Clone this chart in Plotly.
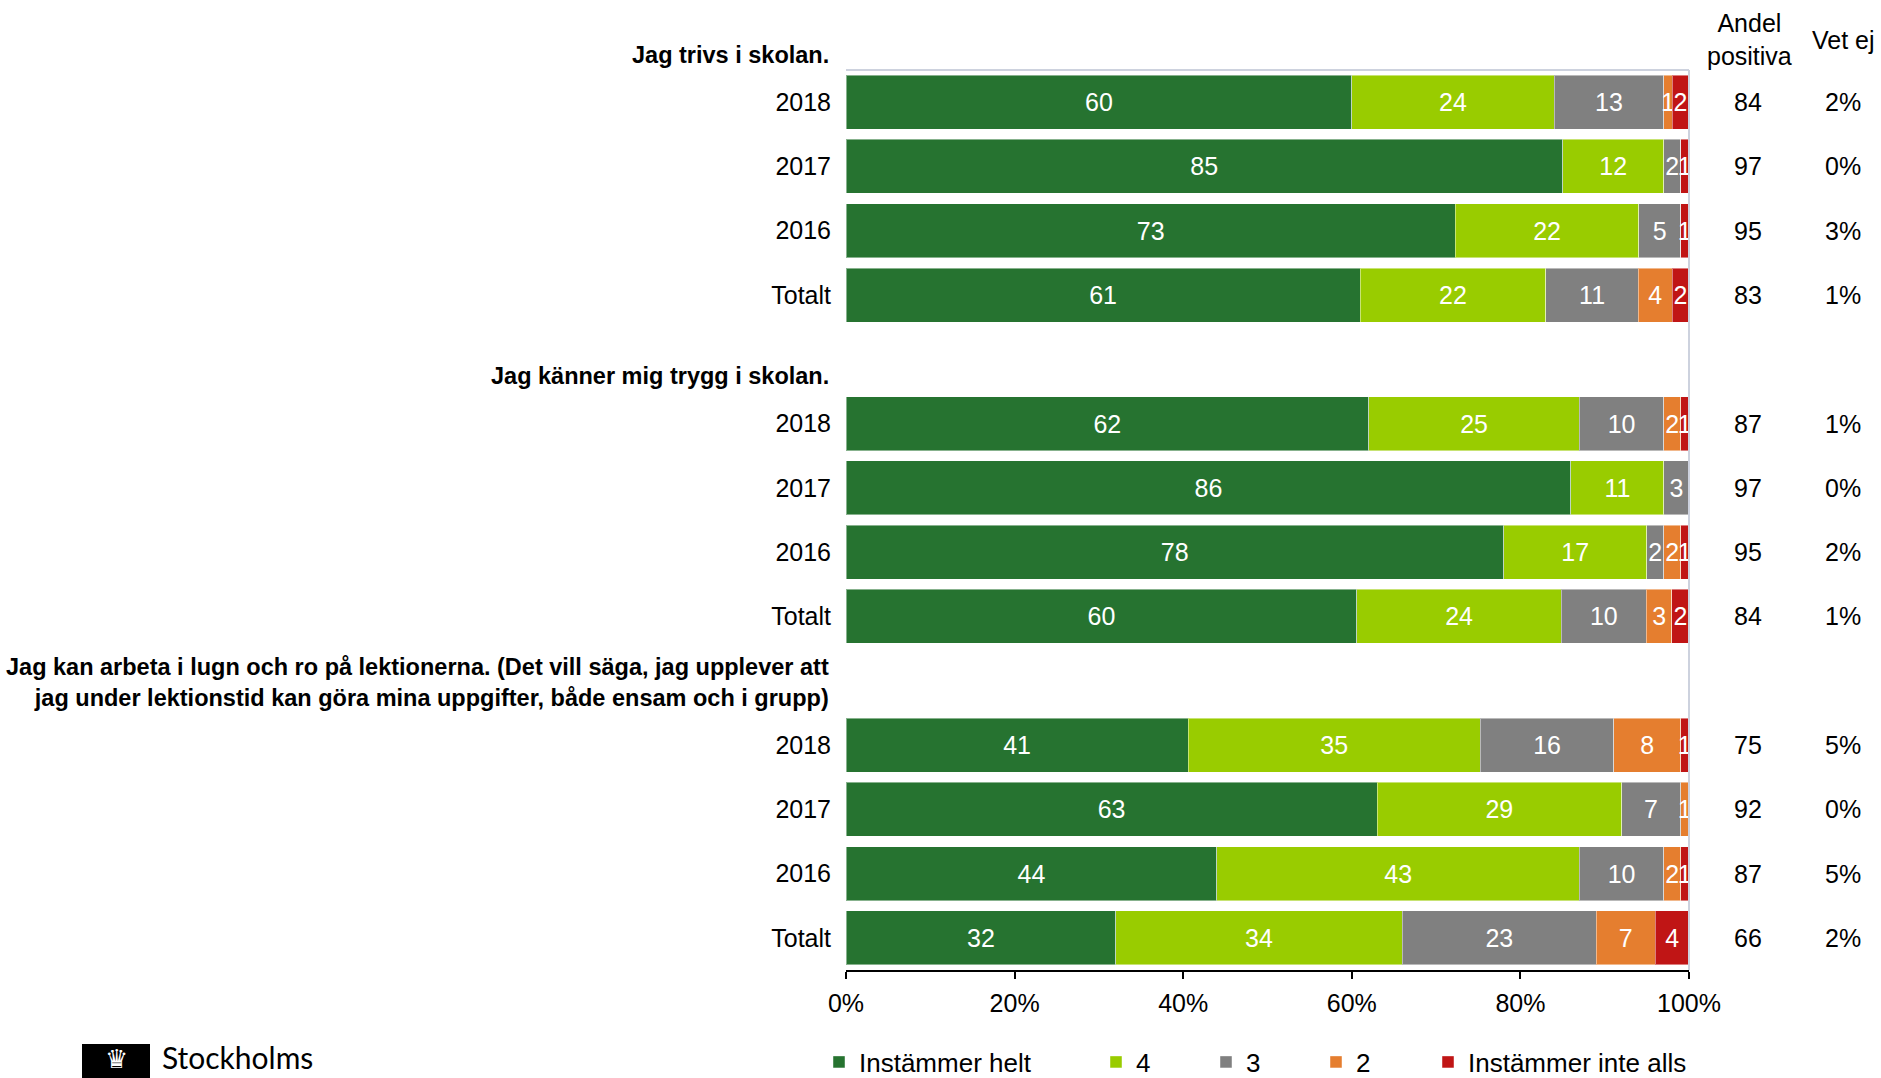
import plotly.graph_objects as go

# ---------------- data ----------------
group_titles = [
    "Jag trivs i skolan.",
    "Jag känner mig trygg i skolan.",
    "Jag kan arbeta i lugn och ro på lektionerna. (Det vill säga, jag upplever att<br>jag under lektionstid kan göra mina uppgifter, både ensam och i grupp)",
]
row_labels = ["2018", "2017", "2016", "Totalt"]

series_names = ["Instämmer helt", "4", "3", "2", "Instämmer inte alls"]
instammer_helt = [60, 85, 73, 61, 62, 86, 78, 60, 41, 63, 44, 32]
svar_4 = [24, 12, 22, 22, 25, 11, 17, 24, 35, 29, 43, 34]
svar_3 = [13, 2, 5, 11, 10, 3, 2, 10, 16, 7, 10, 23]
svar_2 = [1, 0, 0, 4, 2, 0, 2, 3, 8, 1, 2, 7]
instammer_inte_alls = [2, 1, 1, 2, 1, 0, 1, 2, 1, 0, 1, 4]

andel_positiva = [84, 97, 95, 83, 87, 97, 95, 84, 75, 92, 87, 66]
vet_ej = ["2%", "0%", "3%", "1%", "1%", "0%", "2%", "1%", "5%", "0%", "5%", "2%"]

x_ticks = [0, 20, 40, 60, 80, 100]
x_ticklabels = ["0%", "20%", "40%", "60%", "80%", "100%"]

colors = ["#267330", "#99CC00", "#808080", "#E57E2F", "#C01515"]
series_values = [instammer_helt, svar_4, svar_3, svar_2, instammer_inte_alls]

FONT = "Liberation Sans, Arial, sans-serif"

# row positions: each group has 4 rows, separated by an empty slot
n_rows = len(row_labels)
positions = []
ticktext = []
for g in range(len(group_titles)):
    for r in range(n_rows):
        positions.append(g * (n_rows + 1) + r)
        ticktext.append(row_labels[r])

fig = go.Figure()
for i, (name, vals) in enumerate(zip(series_names, series_values)):
    fig.add_trace(go.Bar(
        y=positions,
        x=vals,
        name=name,
        orientation="h",
        marker=dict(color=colors[i], line=dict(color="rgba(255,255,255,0.45)", width=1)),
        text=[str(v) if v > 0 else "" for v in vals],
        textposition="inside",
        insidetextanchor="middle",
        textangle=0,
        textfont=dict(color="white", size=25, family=FONT),
        hoverinfo="skip",
        legend="legend" if i == 0 else f"legend{i+1}",
    ))

# plot geometry (pixels)
W, H = 1881, 1078
L, R, T, B = 846, 1881 - 1689, 70, 1078 - 970
pw = W - L - R
ph = H - T - B


def px2paper_x(px):
    return (px - L) / pw


def px2paper_y(py):
    return (H - B - py) / ph


annotations = []
# group titles (bottom aligned at slot bottom)
for g, title in enumerate(group_titles):
    slot = g * (n_rows + 1) - 1
    annotations.append(dict(
        x=px2paper_x(831), xref="paper", xanchor="right",
        y=slot + 0.5, yref="y", yanchor="bottom",
        text=f"<b>{title}</b>", showarrow=False, align="right",
        font=dict(size=23.5, family=FONT, color="black"),
    ))

# right-hand columns
for p, a, v in zip(positions, andel_positiva, vet_ej):
    annotations.append(dict(x=px2paper_x(1748), xref="paper", xanchor="center",
                            y=p, yref="y", yanchor="middle",
                            text=str(a), showarrow=False,
                            font=dict(size=25, family=FONT, color="black")))
    annotations.append(dict(x=px2paper_x(1843), xref="paper", xanchor="center",
                            y=p, yref="y", yanchor="middle",
                            text=v, showarrow=False,
                            font=dict(size=25, family=FONT, color="black")))

annotations.append(dict(x=px2paper_x(1749), xref="paper", xanchor="center",
                        y=px2paper_y(40), yref="paper", yanchor="middle",
                        text="Andel<br>positiva", showarrow=False,
                        font=dict(size=25, family=FONT, color="black")))
annotations.append(dict(x=px2paper_x(1843), xref="paper", xanchor="center",
                        y=px2paper_y(40), yref="paper", yanchor="middle",
                        text="Vet ej", showarrow=False,
                        font=dict(size=25, family=FONT, color="black")))

# logo
annotations.append(dict(x=px2paper_x(160), xref="paper", xanchor="left",
                        y=px2paper_y(1057), yref="paper", yanchor="middle",
                        text="Stockholms", showarrow=False,
                        font=dict(size=30, family="Lato, Noto Sans, sans-serif", color="black")))
annotations.append(dict(x=px2paper_x(116), xref="paper", xanchor="center",
                        y=px2paper_y(1059), yref="paper", yanchor="middle",
                        text="♛", showarrow=False,
                        font=dict(size=26, family="DejaVu Sans", color="white")))

shapes = [
    dict(type="line", xref="paper", yref="paper", x0=0, x1=1, y0=1, y1=1,
         line=dict(color="#CDD2DE", width=2)),
    dict(type="line", xref="paper", yref="paper", x0=1, x1=1, y0=0, y1=1,
         line=dict(color="#CDD2DE", width=2)),
    dict(type="rect", xref="paper", yref="paper",
         x0=px2paper_x(82), x1=px2paper_x(150), y0=px2paper_y(1085), y1=px2paper_y(1044),
         fillcolor="black", line=dict(width=0), layer="below"),
]

legend_px = [819, 1096, 1206, 1316, 1428]
legend_defs = {}
for i, lx in enumerate(legend_px):
    key = "legend" if i == 0 else f"legend{i+1}"
    legend_defs[key] = dict(
        x=px2paper_x(lx), xanchor="left", y=px2paper_y(1062), yanchor="middle",
        orientation="h", font=dict(size=26, family=FONT, color="black"),
        bgcolor="rgba(0,0,0,0)", borderwidth=0, tracegroupgap=0,
    )

fig.update_layout(
    width=W, height=H,
    margin=dict(l=L, r=R, t=T, b=B, pad=0, autoexpand=False),
    barmode="stack", barnorm="percent", bargap=0.16,
    plot_bgcolor="white", paper_bgcolor="white",
    font=dict(family=FONT, size=25, color="black"),
    uniformtext=dict(minsize=25, mode="show"),
    showlegend=True,
    annotations=annotations,
    shapes=shapes,
    xaxis=dict(range=[0, 100], tickmode="array", tickvals=x_ticks, ticktext=x_ticklabels,
               showgrid=False, zeroline=False,
               showline=True, linecolor="black", linewidth=2,
               ticks="outside", ticklen=7, tickwidth=2, tickcolor="black",
               ticklabelstandoff=3,
               tickfont=dict(size=25, family=FONT, color="black"),
               fixedrange=True),
    yaxis=dict(range=[max(positions) + 0.5, -0.5], tickmode="array",
               tickvals=positions, ticktext=ticktext,
               showgrid=False, zeroline=False, showline=False, ticks="",
               ticklabelstandoff=14,
               tickfont=dict(size=25, family=FONT, color="black"),
               fixedrange=True),
    **legend_defs,
)

fig.write_html("out.html", config={"displayModeBar": False},
               post_script="document.body.style.margin='0';")
